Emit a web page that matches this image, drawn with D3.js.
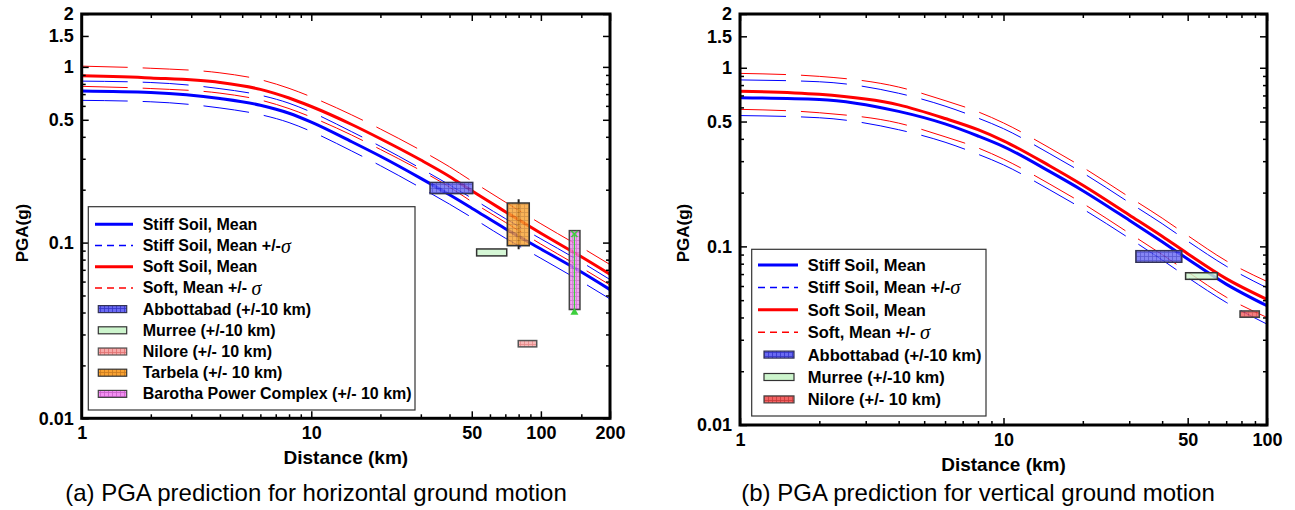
<!DOCTYPE html>
<html>
<head>
<meta charset="utf-8">
<script src="https://cdn.jsdelivr.net/npm/d3@7"></script>
<style>
  html, body { margin: 0; padding: 0; background: #fff; }
  svg { display: block; font-family: "Liberation Sans", Arial, sans-serif; }
  .tick text { font-weight: bold; font-size: 18px; fill: #000; }
</style>
</head>
<body>
<div id="chart"></div>
<script>
"use strict";

// ---- data: (a) horizontal ----
const distH = [1, 2, 4, 6, 8, 10, 15, 20, 30, 40, 50, 70, 100, 150, 200];
const stiffMeanH = [0.73, 0.715, 0.66, 0.605, 0.545, 0.485, 0.375, 0.31, 0.232, 0.187, 0.157, 0.12, 0.092, 0.068, 0.054];
const stiffUpH = [0.83, 0.815, 0.752, 0.69, 0.621, 0.553, 0.4275, 0.353, 0.264, 0.213, 0.179, 0.137, 0.105, 0.0775, 0.0616];
const stiffLoH = [0.645, 0.633, 0.584, 0.535, 0.482, 0.429, 0.332, 0.274, 0.205, 0.1655, 0.139, 0.106, 0.0814, 0.06, 0.0478];
const softMeanH = [0.89, 0.865, 0.815, 0.745, 0.665, 0.595, 0.47, 0.39, 0.295, 0.238, 0.197, 0.15, 0.113, 0.083, 0.066];
const softUpH = [1.01, 0.982, 0.925, 0.846, 0.755, 0.675, 0.533, 0.443, 0.335, 0.27, 0.224, 0.17, 0.128, 0.094, 0.075];
const softLoH = [0.775, 0.753, 0.709, 0.648, 0.579, 0.518, 0.409, 0.339, 0.257, 0.207, 0.171, 0.1305, 0.098, 0.072, 0.0574];

// recorded PGA ranges: [distMin, distMax, pgaMin, pgaMax]
const sitesH = ["Abbottabad", "Murree", "Nilore", "Tarbela", "Barotha"];
const rangesH = [
  [32.9, 50.5, 0.19, 0.22],
  [52.5, 71, 0.084, 0.092],
  [79.7, 95.9, 0.0255, 0.0277],
  [71.4, 89, 0.096, 0.168],
  [133, 148, 0.0416, 0.117],
];
const tarbelaBar = [80, 0.094, 0.172]; // dist, low, high
const barothaBar = [140, 0.04, 0.112];

// ---- data: (b) vertical ----
const distV = [1, 2, 4, 6, 8, 10, 15, 20, 30, 40, 50, 70, 100];
const stiffMeanV = [0.68, 0.665, 0.57, 0.485, 0.415, 0.362, 0.262, 0.205, 0.14, 0.106, 0.085, 0.0615, 0.0465];
const stiffUpV = [0.855, 0.835, 0.72, 0.61, 0.523, 0.456, 0.33, 0.258, 0.176, 0.134, 0.107, 0.0775, 0.0586];
const stiffLoV = [0.54, 0.525, 0.45, 0.383, 0.328, 0.286, 0.207, 0.162, 0.111, 0.084, 0.067, 0.0486, 0.0367];
const softMeanV = [0.74, 0.71, 0.62, 0.52, 0.45, 0.39, 0.282, 0.22, 0.15, 0.114, 0.091, 0.066, 0.0505];
const softUpV = [0.93, 0.895, 0.78, 0.655, 0.567, 0.491, 0.355, 0.277, 0.189, 0.144, 0.115, 0.083, 0.0636];
const softLoV = [0.585, 0.56, 0.49, 0.411, 0.356, 0.308, 0.223, 0.174, 0.1185, 0.09, 0.072, 0.052, 0.04];

const sitesV = ["Abbottabad", "Murree", "NiloreV"];
const rangesV = [
  [31.8, 47.5, 0.0815, 0.0946],
  [49.1, 64.8, 0.0654, 0.0712],
  [79, 93.5, 0.0401, 0.0435],
];

// ---- ticks / labels ----
const yTickLabels = [2, 1.5, 1, 0.5, 0.1, 0.01];
const yMinorTicks = [0.9, 0.8, 0.7, 0.6, 0.4, 0.3, 0.2, 0.09, 0.08, 0.07, 0.06, 0.05, 0.04, 0.03, 0.02];
const xTickLabelsH = [1, 10, 50, 100, 200];
const xMinorTicksH = [2, 3, 4, 5, 6, 7, 8, 9, 20, 30, 40, 60, 70, 80, 90, 150];
const xTickLabelsV = [1, 10, 50, 100];
const xMinorTicksV = [2, 3, 4, 5, 6, 7, 8, 9, 20, 30, 40, 60, 70, 80, 90];

const legendLines = [
  { text: "Stiff Soil, Mean", sigma: null, color: "#0000ff", dash: null },
  { text: "Stiff Soil, Mean +/-", sigma: "σ", color: "#0000ff", dash: "7,5" },
  { text: "Soft Soil, Mean", sigma: null, color: "#ff0000", dash: null },
  { text: "Soft, Mean +/- ", sigma: "σ", color: "#ff0000", dash: "7,5" },
];
const siteLabels = {
  Abbottabad: "Abbottabad (+/-10 km)",
  Murree: "Murree (+/-10 km)",
  Nilore: "Nilore (+/- 10 km)",
  NiloreV: "Nilore (+/- 10 km)",
  Tarbela: "Tarbela (+/- 10 km)",
  Barotha: "Barotha Power Complex (+/- 10 km)",
};
const siteStyle = {
  Abbottabad: { fill: "#6a6af2", grid: "#3434c8", stroke: "#333355" },
  Murree: { fill: "#cdf5cd", grid: "#cdf5cd", stroke: "#333333" },
  Nilore: { fill: "#f6a8a8", grid: "#e07070", stroke: "#555555" },
  NiloreV: { fill: "#f26262", grid: "#c83a3a", stroke: "#444444" },
  Tarbela: { fill: "#f8a232", grid: "#c87a20", stroke: "#333333" },
  Barotha: { fill: "#f290f2", grid: "#c860c8", stroke: "#444444" },
};

const W = 1295, H = 510;
const svg = d3.select("#chart").append("svg").attr("width", W).attr("height", H);
const defs = svg.append("defs");

Object.keys(siteStyle).forEach((k) => {
  const s = siteStyle[k];
  const p = defs.append("pattern").attr("id", "pat-" + k)
    .attr("patternUnits", "userSpaceOnUse").attr("width", 4).attr("height", 4);
  p.append("rect").attr("width", 4).attr("height", 4).attr("fill", s.fill);
  p.append("path").attr("d", "M0,0.5H4M0.5,0V4").attr("stroke", s.grid).attr("stroke-width", 0.8);
});

function drawPanel(cfg) {
  const x = d3.scaleLog().domain(cfg.xDomain).range([cfg.left, cfg.right]);
  const y = d3.scaleLog().domain([0.01, 2]).range([cfg.bottom, cfg.top]);
  const g = svg.append("g");

  const clipId = "clip-" + cfg.id;
  defs.append("clipPath").attr("id", clipId).append("rect")
    .attr("x", cfg.left).attr("y", cfg.top)
    .attr("width", cfg.right - cfg.left).attr("height", cfg.bottom - cfg.top);

  const plot = g.append("g").attr("clip-path", `url(#${clipId})`);
  const line = d3.line().x((d) => x(d[0])).y((d) => y(d[1])).curve(d3.curveMonotoneX);

  cfg.curves.forEach((c) => {
    plot.append("path")
      .datum(cfg.dist.map((d, i) => [d, c.values[i]]))
      .attr("d", line)
      .attr("fill", "none")
      .attr("stroke", c.color)
      .attr("stroke-width", c.dash ? 1 : 3)
      .attr("stroke-dasharray", c.dash);
  });

  // error bar behind the Tarbela box
  if (cfg.tarbela) {
    const [d, lo, hi] = cfg.tarbela;
    plot.append("line").attr("x1", x(d)).attr("x2", x(d))
      .attr("y1", y(hi) - 2).attr("y2", y(lo) + 2)
      .attr("stroke", "#222").attr("stroke-width", 2);
  }

  cfg.sites.forEach((name, i) => {
    const [d0, d1, p0, p1] = cfg.ranges[i];
    plot.append("rect")
      .attr("x", x(d0)).attr("y", y(p1))
      .attr("width", x(d1) - x(d0)).attr("height", y(p0) - y(p1))
      .attr("fill", `url(#pat-${name})`)
      .attr("fill-opacity", 0.82)
      .attr("stroke", siteStyle[name].stroke)
      .attr("stroke-width", 1.5);
  });

  if (cfg.barotha) {
    const [d, lo, hi] = cfg.barotha;
    const cx = x(d);
    plot.append("line").attr("x1", cx).attr("x2", cx)
      .attr("y1", y(hi)).attr("y2", y(lo))
      .attr("stroke", "#3ccf3c").attr("stroke-width", 1.2);
    plot.append("path")
      .attr("d", `M${cx - 3},${y(hi) - 3}L${cx + 3},${y(hi) + 3}M${cx + 3},${y(hi) - 3}L${cx - 3},${y(hi) + 3}`)
      .attr("stroke", "#3ccf3c").attr("stroke-width", 1.5);
    plot.append("path")
      .attr("d", d3.symbol(d3.symbolTriangle, 28)())
      .attr("transform", `translate(${cx},${y(lo)})`)
      .attr("fill", "#3ccf3c");
  }

  // axes (ticks pointing inward)
  const fmt = (d) => String(d);
  g.append("g").attr("transform", `translate(0,${cfg.bottom})`)
    .call(d3.axisBottom(x).tickValues(cfg.xMajor).tickSize(-7).tickPadding(8).tickFormat(fmt));
  g.append("g").attr("transform", `translate(0,${cfg.bottom})`)
    .call(d3.axisBottom(x).tickValues(cfg.xMinor).tickSize(-4).tickFormat(""));
  g.append("g").attr("transform", `translate(0,${cfg.top})`)
    .call(d3.axisTop(x).tickValues(cfg.xMajor).tickSize(-7).tickFormat(""));
  g.append("g").attr("transform", `translate(0,${cfg.top})`)
    .call(d3.axisTop(x).tickValues(cfg.xMinor).tickSize(-4).tickFormat(""));
  g.append("g").attr("transform", `translate(${cfg.left},0)`)
    .call(d3.axisLeft(y).tickValues(yTickLabels).tickSize(-7).tickPadding(8).tickFormat(fmt));
  g.append("g").attr("transform", `translate(${cfg.left},0)`)
    .call(d3.axisLeft(y).tickValues(yMinorTicks).tickSize(-4).tickFormat(""));
  g.append("g").attr("transform", `translate(${cfg.right},0)`)
    .call(d3.axisRight(y).tickValues(yTickLabels).tickSize(-7).tickFormat(""));
  g.append("g").attr("transform", `translate(${cfg.right},0)`)
    .call(d3.axisRight(y).tickValues(yMinorTicks).tickSize(-4).tickFormat(""));
  g.selectAll(".domain").remove();
  g.selectAll(".tick line").attr("stroke", "#000").attr("stroke-width", 1.5);

  g.append("rect")
    .attr("x", cfg.left).attr("y", cfg.top)
    .attr("width", cfg.right - cfg.left).attr("height", cfg.bottom - cfg.top)
    .attr("fill", "none").attr("stroke", "#000").attr("stroke-width", 3);

  // axis titles and caption
  g.append("text")
    .attr("transform", `translate(${cfg.yTitleX},233) rotate(-90)`)
    .attr("text-anchor", "middle").attr("font-weight", "bold").attr("font-size", 17)
    .text("PGA(g)");
  g.append("text")
    .attr("x", (cfg.left + cfg.right) / 2).attr("y", cfg.bottom + 46)
    .attr("text-anchor", "middle").attr("font-weight", "bold").attr("font-size", 19)
    .text("Distance (km)");
  g.append("text")
    .attr("x", cfg.captionX).attr("y", 501)
    .attr("text-anchor", "middle").attr("font-size", 24)
    .text(cfg.caption);

  // legend
  const L = cfg.legend;
  const lg = g.append("g");
  lg.append("rect").attr("x", L.x).attr("y", L.y).attr("width", L.w).attr("height", L.h)
    .attr("fill", "#fff").attr("stroke", "#333").attr("stroke-width", 1.2);
  const rowY = (i) => L.firstRow + i * L.step;
  legendLines.forEach((e, i) => {
    lg.append("line")
      .attr("x1", L.lineX0).attr("x2", L.lineX1).attr("y1", rowY(i)).attr("y2", rowY(i))
      .attr("stroke", e.color).attr("stroke-width", e.dash ? 1.5 : 3)
      .attr("stroke-dasharray", e.dash);
    const t = lg.append("text").attr("x", L.textX).attr("y", rowY(i))
      .attr("dominant-baseline", "central").attr("font-weight", "bold").attr("font-size", L.font)
      .text(e.text);
    if (e.sigma) {
      t.append("tspan").attr("font-family", "Liberation Serif, serif").attr("font-style", "italic")
        .attr("font-weight", "normal").attr("font-size", L.font + 4).text(e.sigma);
    }
  });
  cfg.sites.forEach((name, j) => {
    const i = j + legendLines.length;
    lg.append("rect")
      .attr("x", L.patchX0).attr("y", rowY(i) - 3.5)
      .attr("width", L.patchX1 - L.patchX0).attr("height", 7)
      .attr("fill", `url(#pat-${name})`)
      .attr("stroke", siteStyle[name].stroke).attr("stroke-width", 1.2);
    lg.append("text").attr("x", L.textX).attr("y", rowY(i))
      .attr("dominant-baseline", "central").attr("font-weight", "bold").attr("font-size", L.font)
      .text(siteLabels[name]);
  });
}

drawPanel({
  id: "h",
  left: 81.7, right: 610, top: 14, bottom: 418.3,
  xDomain: [1, 200], xMajor: xTickLabelsH, xMinor: xMinorTicksH,
  dist: distH,
  curves: [
    { values: stiffUpH, color: "#0000ff", dash: "46,15" },
    { values: stiffLoH, color: "#0000ff", dash: "46,15" },
    { values: softUpH, color: "#ff0000", dash: "46,15" },
    { values: softLoH, color: "#ff0000", dash: "46,15" },
    { values: stiffMeanH, color: "#0000ff" },
    { values: softMeanH, color: "#ff0000" },
  ],
  sites: sitesH, ranges: rangesH, tarbela: tarbelaBar, barotha: barothaBar,
  yTitleX: 28, captionX: 316,
  caption: "(a) PGA prediction for horizontal ground motion",
  legend: { x: 88.3, y: 206.7, w: 326.7, h: 203.3, firstRow: 224.3, step: 21.2,
    lineX0: 95, lineX1: 133, patchX0: 98.3, patchX1: 126.7, textX: 142.7, font: 16 },
});

drawPanel({
  id: "v",
  left: 740, right: 1267, top: 14, bottom: 425,
  xDomain: [1, 100], xMajor: xTickLabelsV, xMinor: xMinorTicksV,
  dist: distV,
  curves: [
    { values: stiffUpV, color: "#0000ff", dash: "46,15" },
    { values: stiffLoV, color: "#0000ff", dash: "46,15" },
    { values: softUpV, color: "#ff0000", dash: "46,15" },
    { values: softLoV, color: "#ff0000", dash: "46,15" },
    { values: stiffMeanV, color: "#0000ff" },
    { values: softMeanV, color: "#ff0000" },
  ],
  sites: sitesV, ranges: rangesV,
  yTitleX: 689, captionX: 978,
  caption: "(b) PGA prediction for vertical ground motion",
  legend: { x: 751.7, y: 249.3, w: 234.3, h: 166.7, firstRow: 265, step: 22.4,
    lineX0: 758, lineX1: 798, patchX0: 764, patchX1: 794, textX: 807.7, font: 16.5 },
});
</script>
</body>
</html>
